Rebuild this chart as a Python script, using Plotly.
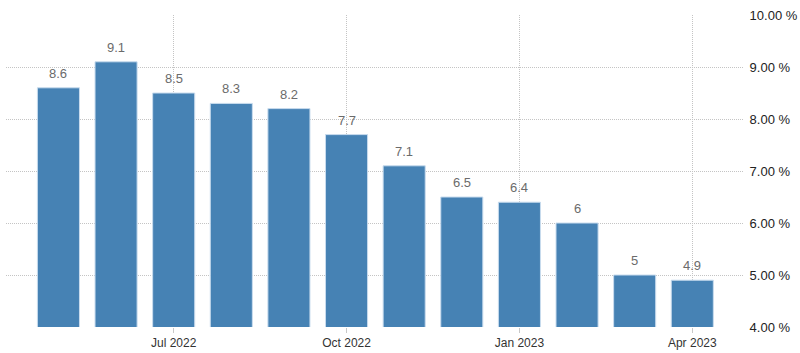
import plotly.graph_objects as go

months = ["May 2022", "Jun 2022", "Jul 2022", "Aug 2022", "Sep 2022", "Oct 2022",
          "Nov 2022", "Dec 2022", "Jan 2023", "Feb 2023", "Mar 2023", "Apr 2023"]
values = [8.6, 9.1, 8.5, 8.3, 8.2, 7.7, 7.1, 6.5, 6.4, 6, 5, 4.9]
tick_months = ["Jul 2022", "Oct 2022", "Jan 2023", "Apr 2023"]
y_ticks = [4, 5, 6, 7, 8, 9, 10]
y_tick_text = [f"{v:.2f} %" for v in y_ticks]

fig = go.Figure()
fig.add_trace(go.Bar(
    x=months, y=values,
    marker=dict(color="#4682b4", line=dict(color="#c9dcee", width=1)),
    hoverinfo="skip",
))
for m, v in zip(months, values):
    fig.add_annotation(x=m, y=v, text=f"{v:g}", showarrow=False,
                       yanchor="bottom", yshift=5,
                       font=dict(family="Liberation Sans, Arial", size=13, color="#6b6b6b"))

fig.update_layout(
    width=800, height=353,
    margin=dict(l=6, r=57, t=15, b=26),
    paper_bgcolor="white", plot_bgcolor="white",
    bargap=0.27, showlegend=False,
    xaxis=dict(
        type="category", range=[-0.91, 11.88], automargin=False,
        tickmode="array", tickvals=tick_months, ticktext=tick_months,
        showgrid=True, gridcolor="#c4c4c4", griddash="1px,1px", gridwidth=1,
        ticks="outside", ticklen=5, tickcolor="#c8c8c8",
        tickfont=dict(family="Liberation Sans, Arial", size=12, color="#333333"),
        showline=False, zeroline=False,
    ),
    yaxis=dict(
        side="right", range=[4, 10], tickmode="array", automargin=False,
        tickvals=y_ticks, ticktext=y_tick_text,
        showgrid=True, gridcolor="#c4c4c4", griddash="1px,1px", gridwidth=1,
        tickfont=dict(family="Liberation Sans, Arial", size=13, color="#222222"),
        ticklen=3, ticks="outside", tickcolor="white",
        zeroline=False, showline=False,
    ),
)
fig.write_html("out.html")
